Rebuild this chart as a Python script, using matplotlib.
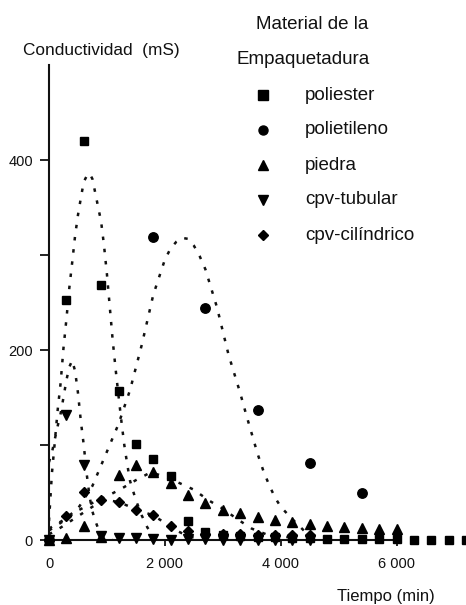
import matplotlib
matplotlib.use("Agg")
import matplotlib.pyplot as plt
from matplotlib.lines import Line2D

# figure size in pixels
W, H = 466, 605

plt.rcParams['font.family'] = ['Liberation Sans', 'DejaVu Sans']

# measured points (time in min, conductivity in mS)
t_poliester = [0, 300, 600, 900, 1200, 1500, 1800, 2100, 2400, 2700, 3000, 3300, 3600,
               3900, 4200, 4500, 4800, 5100, 5400, 5700, 6000, 6300, 6600, 6900, 7200]
c_poliester = [0, 253, 420, 268, 157, 101, 85, 67, 20, 8, 5, 4, 3,
               3, 2, 2, 1, 1, 1, 1, 1, 0, 0, 0, 0]

t_polietileno = [0, 1800, 2700, 3600, 4500, 5400]
c_polietileno = [0, 319, 244, 137, 81, 50]

t_piedra = [0, 300, 600, 900, 1200, 1500, 1800, 2100, 2400, 2700, 3000, 3300, 3600,
            3900, 4200, 4500, 4800, 5100, 5400, 5700, 6000]
c_piedra = [0, 2, 15, 3, 68, 79, 72, 60, 47, 39, 32, 28, 24,
            21, 19, 17, 15, 14, 13, 12, 12]

t_tubular = [0, 300, 600, 900, 1200, 1500, 1800, 2100, 2400, 2700, 3000, 3300, 3600,
             3900, 4200, 4500]
c_tubular = [0, 132, 79, 4, 2, 2, 1, 0, 1, 1, 0, 0, 0, 0, 0, 0]

t_cilindrico = [0, 300, 600, 900, 1200, 1500, 1800, 2100, 2400, 2700, 3000, 3300, 3600,
                3900, 4200, 4500]
c_cilindrico = [0, 25, 51, 42, 40, 32, 26, 15, 10, 6, 6, 6, 5, 5, 5, 5]

# fitted curves
fit_poliester_t = [0, 50, 100, 150, 200, 250, 300, 350, 400, 450, 500, 550, 600, 650, 700,
                   750, 800, 850, 900, 950, 1000, 1050, 1100, 1150, 1200, 1250, 1300, 1350,
                   1400, 1500, 1600, 1700, 1800]
fit_poliester_c = [20, 70, 103, 137, 165, 202, 232, 265, 292, 320, 342, 360, 377, 383, 386,
                   380, 365, 350, 335, 310, 280, 245, 210, 180, 152, 125, 100, 80,
                   62, 42, 26, 13, 5]

fit_tubular_t = [0, 50, 100, 150, 200, 250, 300, 350, 400, 450, 500, 550, 600, 650, 700,
                 750, 800, 850, 900, 1000, 1100]
fit_tubular_c = [82, 92, 106, 120, 133, 150, 168, 182, 189, 178, 155, 125, 100, 70, 46,
                 30, 20, 12, 6, 2, 0]

fit_polietileno_t = [0, 250, 500, 750, 1000, 1200, 1400, 1600, 1800, 2000, 2100, 2200, 2300,
                     2400, 2500, 2600, 2700, 2800, 2900, 3000, 3100, 3200, 3300, 3400, 3500,
                     3600, 3700, 3800, 3900, 4000, 4200, 4400, 4600]
fit_polietileno_c = [12, 21, 33, 57, 93, 122, 158, 205, 258, 295, 307, 314, 318,
                     317, 310, 299, 285, 265, 245, 220, 195, 175, 155, 133, 112,
                     91, 73, 58, 45, 35, 22, 10, 3]

fit_piedra_t = [0, 250, 500, 750, 1000, 1250, 1500, 1750, 2000, 2250, 2500, 2750, 3000,
                3250, 3500, 3750, 4000, 4250]
fit_piedra_c = [10, 20, 31, 39, 46, 54, 63, 71, 67, 60, 53, 42, 33, 22, 12, 6, 4, 2]

fit_cilindrico_t = [0, 200, 400, 600, 800, 1000, 1200, 1400, 1600, 1800, 2000, 2200, 2400, 2600]
fit_cilindrico_c = [6, 13, 21, 29, 37, 42, 40, 35, 30, 26, 18, 10, 4, 1]

legend_labels = ['poliester', 'polietileno', 'piedra', 'cpv-tubular', 'cpv-cilíndrico']
markers = ['s', 'o', '^', 'v', 'D']
marker_sizes = [6.3, 6.8, 7.2, 7.2, 5.6]

xticks = [0, 2000, 4000, 6000]
xtick_labels = ['0', '2 000', '4 000', '6 000']
yticks = [0, 100, 200, 300, 400]
ytick_labels = ['0', '', '200', '', '400']

ink = '#111111'

fig = plt.figure(figsize=(W / 100, H / 100), dpi=100)
ax = fig.add_axes([49 / W, 65 / H, 417 / W, 475 / H])
ax.set_xlim(0, 7200)
ax.set_ylim(0, 500)

dots = (0, (1.4, 3.5))
for ft, fc in [(fit_poliester_t, fit_poliester_c), (fit_tubular_t, fit_tubular_c),
               (fit_polietileno_t, fit_polietileno_c), (fit_piedra_t, fit_piedra_c),
               (fit_cilindrico_t, fit_cilindrico_c)]:
    ax.plot(ft, fc, ls=dots, lw=1.8, color=ink, zorder=2)

series = [(t_poliester, c_poliester), (t_polietileno, c_polietileno), (t_piedra, c_piedra),
          (t_tubular, c_tubular), (t_cilindrico, c_cilindrico)]
for (t, c), m, ms in zip(series, markers, marker_sizes):
    ax.plot(t, c, ls='none', marker=m, ms=ms, color='black', clip_on=False, zorder=4)

for side in ['top', 'right']:
    ax.spines[side].set_visible(False)
ax.spines['left'].set_bounds(0, 500)
ax.spines['bottom'].set_bounds(0, 6000)
for side in ['left', 'bottom']:
    ax.spines[side].set_linewidth(1.5)
    ax.spines[side].set_color(ink)
    ax.spines[side].set_zorder(3)

ax.set_xticks(xticks)
ax.set_xticklabels(xtick_labels)
ax.set_yticks(yticks)
ax.set_yticklabels(ytick_labels)
ax.tick_params(axis='x', length=4, width=1.3, pad=8, labelsize=10.5, colors=ink)
ax.tick_params(axis='y', length=6.5, width=1.3, pad=5, labelsize=10.5, colors=ink)

# axis titles
fig.text(23 / W, 1 - 55 / H, 'Conductividad  (mS)', fontsize=12.4, color=ink, va='baseline')
fig.text(337 / W, 1 - 601 / H, 'Tiempo (min)', fontsize=12, color=ink, va='baseline')

# legend drawn by hand
fig.text(256 / W, 1 - 29.3 / H, 'Material de la', fontsize=13.5, color=ink, va='baseline')
fig.text(236 / W, 1 - 64.3 / H, 'Empaquetadura', fontsize=13.5, color=ink, va='baseline')
for i, (lab, m) in enumerate(zip(legend_labels, markers)):
    y_px = 95 + 35 * i
    fig.add_artist(Line2D([263 / W], [1 - y_px / H], marker=m, ms=6.5 if m != 'D' else 5.2,
                          ls='none', color='black', transform=fig.transFigure))
    fig.text(305 / W, 1 - (y_px + 4.5) / H, lab, fontsize=13.5, color=ink, va='baseline')

fig.savefig('out.png', dpi=100)
